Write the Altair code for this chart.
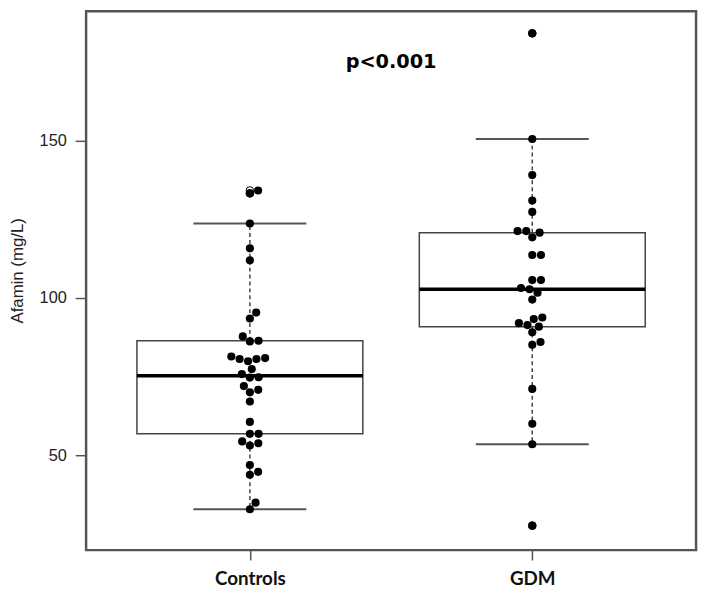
import math
import numpy as np
import pandas as pd
import altair as alt

# ---- data ----
groups = ["Controls", "GDM"]
controls = [32.8, 34.9, 43.8, 44.7, 46.9, 53.1, 53.8, 54.4, 56.8, 56.8, 60.6,
            67.1, 70.0, 70.8, 72.0, 74.7, 74.8, 75.8, 77.4, 79.9, 80.6, 80.6,
            80.9, 81.4, 86.2, 86.4, 87.8, 93.5, 95.4, 112.0, 115.8, 123.7,
            133.3, 134.2]
gdm = [27.6, 53.5, 60.0, 71.1, 85.1, 86.0, 89.1, 90.9, 91.4, 92.0, 93.3, 93.8,
       99.5, 101.7, 102.8, 103.2, 105.7, 105.7, 113.7, 113.7, 119.3, 120.8,
       121.3, 121.3, 127.4, 131.0, 139.1, 150.6, 184.2]
y_ticks = [50, 100, 150]
y_title = "Afamin (mg/L)"
p_label = "p<0.001"

series = [controls, gdm]

# ---- layout constants ----
W, H = 617, 545
X_DOM = [0.42, 2.58]
Y_DOM = [19.81, 191.2]
px_per_x = W / (X_DOM[1] - X_DOM[0])
px_per_y = H / (Y_DOM[1] - Y_DOM[0])
DOT_D = 8.8  # swarm spacing in px


def fivenum(v):
    v = sorted(v)
    n = len(v)
    n4 = math.floor((n + 3) / 2) / 2
    d = [1, n4, (n + 1) / 2, n + 1 - n4, n]
    return [0.5 * (v[math.floor(x) - 1] + v[math.ceil(x) - 1]) for x in d]


def swarm(values, d, ppu):
    ys = np.array(values) * ppu
    order = np.argsort(ys, kind="stable")
    placed = []
    xs = np.zeros(len(values))
    for i in order:
        y = ys[i]
        near = [(px, py) for px, py in placed if abs(py - y) < d]
        cands = [0.0]
        for px, py in near:
            dx = math.sqrt(d * d - (py - y) ** 2)
            cands += [px + dx, px - dx]
        cands = sorted(cands, key=lambda c: (round(abs(c), 6), -c))
        for c in cands:
            if all((c - px) ** 2 + (y - py) ** 2 >= d * d - 1e-6 for px, py in near):
                xs[i] = c
                placed.append((c, y))
                break
    return xs


box_rows, whisk_rows, cap_rows, out_rows, pt_rows = [], [], [], [], []
for gi, (g, vals) in enumerate(zip(groups, series)):
    pos = gi + 1
    mn, q1, med, q3, mx = fivenum(vals)
    iqr = q3 - q1
    lo = min(v for v in vals if v >= q1 - 1.5 * iqr)
    hi = max(v for v in vals if v <= q3 + 1.5 * iqr)
    box_rows.append(dict(g=g, x=pos - 0.4, x2=pos + 0.4, q1=q1, q3=q3, med=med))
    whisk_rows += [dict(x=pos, y=q3, y2=hi), dict(x=pos, y=q1, y2=lo)]
    cap_rows += [dict(x=pos - 0.2, x2=pos + 0.2, y=hi), dict(x=pos - 0.2, x2=pos + 0.2, y=lo)]
    for v in vals:
        if v < lo or v > hi:
            out_rows.append(dict(x=pos, y=v))
    offs = swarm(vals, DOT_D, px_per_y)
    for v, o in zip(vals, offs):
        pt_rows.append(dict(g=g, x=pos + o / px_per_x, y=v))

box_df = pd.DataFrame(box_rows)
whisk_df = pd.DataFrame(whisk_rows)
cap_df = pd.DataFrame(cap_rows)
out_df = pd.DataFrame(out_rows)
pt_df = pd.DataFrame(pt_rows)
txt_df = pd.DataFrame([dict(x=1.5, y=175.0, t=p_label)])

xs = alt.Scale(domain=X_DOM, nice=False, zero=False)
ys = alt.Scale(domain=Y_DOM, nice=False, zero=False)

x_axis = alt.Axis(values=[1, 2], labelExpr="datum.value == 1 ? 'Controls' : 'GDM'",
                  title=None, grid=False, domain=False, tickSize=10, tickWidth=1.5,
                  tickColor="#555", labelFont="Lato", labelFontWeight="bold",
                  labelFontSize=19, labelColor="#111", labelPadding=25,
                  labelBaseline="alphabetic")
y_axis = alt.Axis(values=y_ticks, title=y_title, grid=False, domain=False,
                  tickSize=11, tickWidth=1.5, tickColor="#555",
                  labelFont="Liberation Sans", labelFontSize=16.5, labelColor="#222",
                  labelPadding=9, titleFont="Liberation Sans", titleFontSize=17,
                  titleFontWeight="normal", titleColor="#222", titleAngle=270,
                  titleX=-69, titleY=262, titleAlign="center", titleBaseline="middle")


def X(f="x"):
    return alt.X(f"{f}:Q", scale=xs, axis=x_axis)


def Y(f="y"):
    return alt.Y(f"{f}:Q", scale=ys, axis=y_axis)


whiskers = alt.Chart(whisk_df).mark_rule(color="#444", strokeWidth=1.5, strokeDash=[4, 3]).encode(
    x=X(), y=Y(), y2="y2:Q")
caps = alt.Chart(cap_df).mark_rule(color="#555", strokeWidth=2).encode(
    x=X(), x2="x2:Q", y=Y())
boxes = alt.Chart(box_df).mark_rect(fill="white", stroke="#444", strokeWidth=1.5).encode(
    x=X(), x2="x2:Q", y=Y("q1"), y2="q3:Q")
medians = alt.Chart(box_df).mark_rule(color="black", strokeWidth=3.5).encode(
    x=X(), x2="x2:Q", y=Y("med"))
outliers = alt.Chart(out_df).mark_point(shape="circle", filled=False, color="black",
                                        strokeWidth=1, size=60, opacity=1).encode(x=X(), y=Y())
points = alt.Chart(pt_df).mark_circle(color="black", size=68, opacity=1).encode(x=X(), y=Y())
ptext = alt.Chart(txt_df).mark_text(font="DejaVu Sans", fontWeight="bold", fontSize=19.5,
                                    color="black", baseline="middle", align="center").encode(
    x=X(), y=Y(), text="t:N")

chart = alt.layer(whiskers, caps, boxes, medians, outliers, points, ptext).properties(
    width=W, height=H,
    autosize=alt.AutoSizeParams(type="none"),
    padding={"left": 79, "top": 0, "right": 5, "bottom": 40},
).configure(
    background="white",
    view=alt.ViewConfig(stroke="#555", strokeWidth=2.5),
)

chart.save("out.html", embed_options={"renderer": "svg", "actions": False})
